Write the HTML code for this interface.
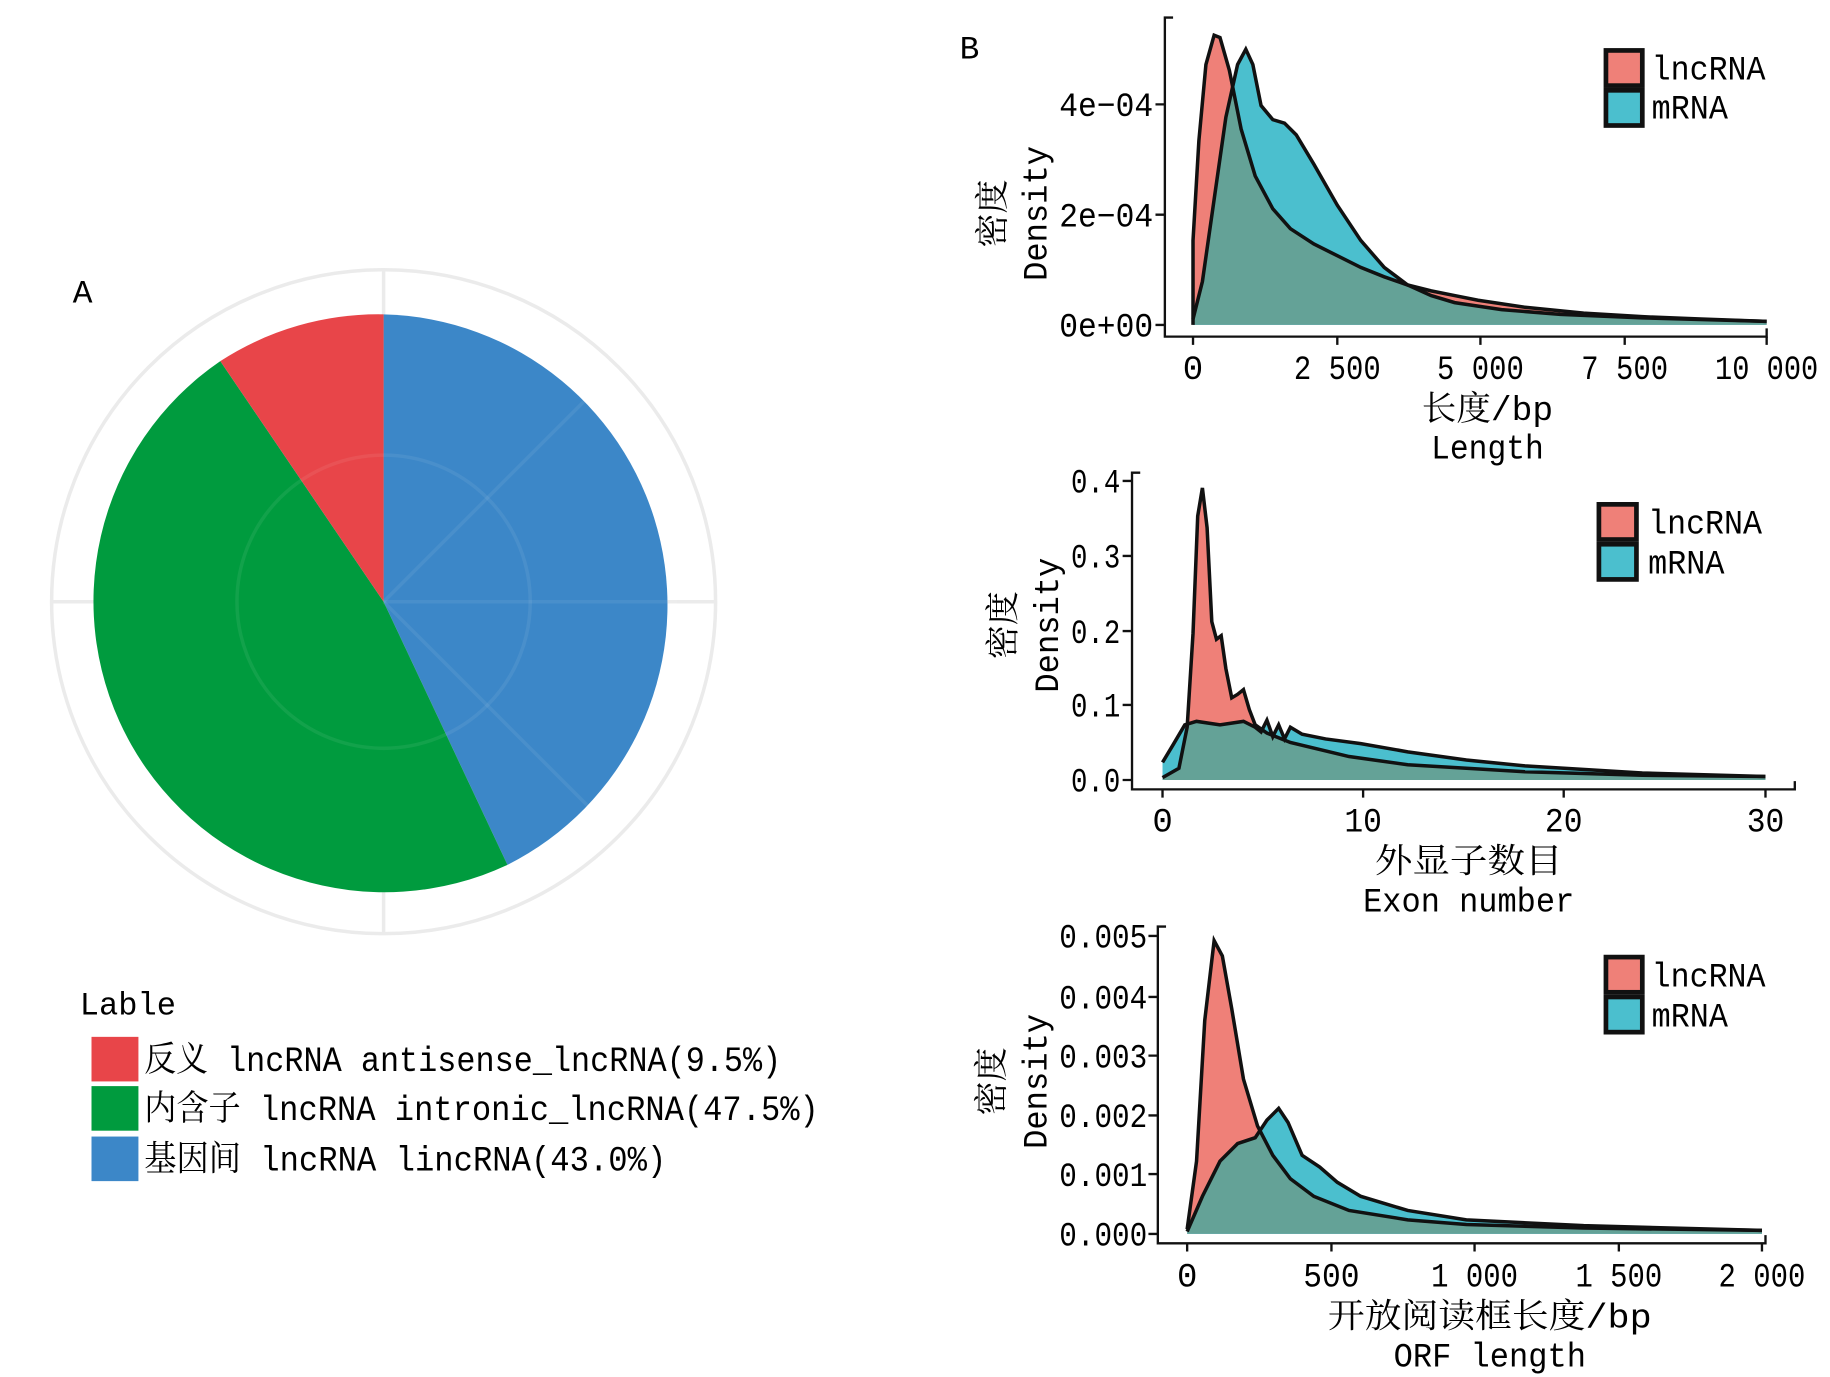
<!DOCTYPE html>
<html><head><meta charset="utf-8"><style>
html,body{margin:0;padding:0;background:#fff;}
svg{display:block;}
text{font-family:"Liberation Mono","Noto Serif CJK SC","Noto Sans CJK SC",monospace;fill:#000;}
</style></head><body>
<svg width="1830" height="1377" viewBox="0 0 1560 1174" preserveAspectRatio="none" xmlns="http://www.w3.org/2000/svg">
<defs>
<clipPath id="m1"><path d="M1017,272 L1025,240 1035,170 1045,100 1055,55 1062,42 1068,55 1075,90 1085,102 1095,105 1105,115 1120,140 1140,175 1160,205 1180,228 1200,243 1220,252 1240,258 1280,264 1330,268 1400,271 1506,274 1506,277 1017,277Z"/></clipPath>
<clipPath id="m2"><path d="M991,650 L1000,635 1010,618 1020,615 1040,618 1060,615 1070,620 1075,624 1080,614 1085,628 1090,618 1095,630 1100,620 1110,626 1130,630 1160,634 1200,641 1250,648 1300,653 1400,659 1505,662 1505,665 991,665Z"/></clipPath>
<clipPath id="m3"><path d="M1012,1050 L1025,1020 1040,990 1055,975 1070,970 1080,955 1090,945 1098,957 1110,985 1125,995 1140,1008 1160,1020 1200,1032 1250,1040 1350,1045 1502,1049 1502,1052 1012,1052Z"/></clipPath>
</defs>

<!-- Panel A -->
<text x="62" y="258" font-size="28">A</text>
<circle cx="327" cy="513" r="283" fill="none" stroke="#ebebeb" stroke-width="3"/>
<line x1="44" y1="513" x2="610" y2="513" stroke="#ebebeb" stroke-width="3"/>
<line x1="327" y1="230" x2="327" y2="796" stroke="#ebebeb" stroke-width="3"/>
<path d="M327,513 L327,268 A248,248 0 0,1 432.6,737.4 Z" fill="#3c87c8"/>
<path d="M327,513 L432.6,737.4 A248,248 0 0,1 187.8,307.9 Z" fill="#009b3e"/>
<path d="M327,513 L187.8,307.9 A248,248 0 0,1 327,268 Z" fill="#e84549"/>
<g stroke="#fff" stroke-opacity="0.07" stroke-width="3" fill="none">
<circle cx="327" cy="513" r="125"/>
<line x1="327" y1="513" x2="502" y2="338"/>
<line x1="327" y1="513" x2="577" y2="513"/>
<line x1="327" y1="513" x2="502" y2="688"/>
</g>
<text x="68" y="865" font-size="28" textLength="82" lengthAdjust="spacingAndGlyphs">Lable</text>
<rect x="78" y="884" width="40" height="38" fill="#e84549"/>
<rect x="78" y="926" width="40" height="38" fill="#009b3e"/>
<rect x="78" y="969" width="40" height="38" fill="#3c87c8"/>
<text x="123" y="913" font-size="30" textLength="543" lengthAdjust="spacingAndGlyphs">反义 lncRNA antisense_lncRNA(9.5%)</text>
<text x="123" y="955" font-size="30" textLength="575" lengthAdjust="spacingAndGlyphs">内含子 lncRNA intronic_lncRNA(47.5%)</text>
<text x="123" y="998" font-size="30" textLength="445" lengthAdjust="spacingAndGlyphs">基因间 lncRNA lincRNA(43.0%)</text>

<text x="818" y="50" font-size="28">B</text>

<!-- Plot 1 -->
<path d="M1017,205 L1022,120 1028,55 1035,30 1040,32 1048,60 1058,110 1070,150 1085,178 1100,195 1120,208 1140,218 1160,228 1180,236 1200,243 1220,248 1240,252 1260,256 1300,262 1350,267 1400,270 1450,272 1506,274 1506,277 1017,277Z" fill="#ef8078"/>
<path d="M1017,272 L1025,240 1035,170 1045,100 1055,55 1062,42 1068,55 1075,90 1085,102 1095,105 1105,115 1120,140 1140,175 1160,205 1180,228 1200,243 1220,252 1240,258 1280,264 1330,268 1400,271 1506,274 1506,277 1017,277Z" fill="#4bbfce"/>
<path clip-path="url(#m1)" d="M1017,205 L1022,120 1028,55 1035,30 1040,32 1048,60 1058,110 1070,150 1085,178 1100,195 1120,208 1140,218 1160,228 1180,236 1200,243 1220,248 1240,252 1260,256 1300,262 1350,267 1400,270 1450,272 1506,274 1506,277 1017,277Z" fill="#64a297"/>
<g fill="none" stroke="#111" stroke-width="3">
<polyline points="1017,277 1017,205 1022,120 1028,55 1035,30 1040,32 1048,60 1058,110 1070,150 1085,178 1100,195 1120,208 1140,218 1160,228 1180,236 1200,243 1220,248 1240,252 1260,256 1300,262 1350,267 1400,270 1450,272 1506,274"/>
<polyline points="1017,272 1025,240 1035,170 1045,100 1055,55 1062,42 1068,55 1075,90 1085,102 1095,105 1105,115 1120,140 1140,175 1160,205 1180,228 1200,243 1220,252 1240,258 1280,264 1330,268 1400,271 1506,274"/>
<polyline points="1000,15 993,15 993,287 1506,287 1506,280" stroke-width="2"/>
<path d="M985,89H993M985,183H993M985,277H993M1017,287V294M1140,287V294M1262,287V294M1385,287V294M1506,287V294" stroke-width="2"/>
</g>
<g font-size="29" text-anchor="end"><text x="983" y="99" textLength="80" lengthAdjust="spacingAndGlyphs">4e−04</text><text x="983" y="193" textLength="80" lengthAdjust="spacingAndGlyphs">2e−04</text><text x="983" y="287" textLength="80" lengthAdjust="spacingAndGlyphs">0e+00</text></g>
<g font-size="29" text-anchor="middle"><text x="1017" y="323">0</text><text x="1140" y="323" textLength="74" lengthAdjust="spacingAndGlyphs">2 500</text><text x="1262" y="323" textLength="74" lengthAdjust="spacingAndGlyphs">5 000</text><text x="1385" y="323" textLength="74" lengthAdjust="spacingAndGlyphs">7 500</text><text x="1506" y="323" textLength="88" lengthAdjust="spacingAndGlyphs">10 000</text>
<text x="1268" y="358" textLength="112" lengthAdjust="spacingAndGlyphs">长度/bp</text><text x="1268" y="391" textLength="96" lengthAdjust="spacingAndGlyphs">Length</text></g>
<text transform="translate(892,182) rotate(-90)" font-size="29" text-anchor="middle" textLength="115" lengthAdjust="spacingAndGlyphs">Density</text>
<text transform="translate(856,182) rotate(-90)" font-size="29" text-anchor="middle">密度</text>
<rect x="1369" y="43" width="31" height="30" fill="#ef8078" stroke="#111" stroke-width="4"/>
<rect x="1369" y="77" width="31" height="30" fill="#4bbfce" stroke="#111" stroke-width="4"/>
<text x="1408" y="68" font-size="29" textLength="97" lengthAdjust="spacingAndGlyphs">lncRNA</text>
<text x="1408" y="101" font-size="29" textLength="65" lengthAdjust="spacingAndGlyphs">mRNA</text>

<!-- Plot 2 -->
<path d="M991,663 L1005,655 1012,620 1017,540 1021,440 1025,416 1029,450 1033,530 1037,545 1041,542 1045,570 1050,595 1055,592 1060,588 1065,605 1070,618 1080,625 1100,633 1150,645 1200,652 1300,658 1400,661 1505,662 1505,665 991,665Z" fill="#ef8078"/>
<path d="M991,650 L1000,635 1010,618 1020,615 1040,618 1060,615 1070,620 1075,624 1080,614 1085,628 1090,618 1095,630 1100,620 1110,626 1130,630 1160,634 1200,641 1250,648 1300,653 1400,659 1505,662 1505,665 991,665Z" fill="#4bbfce"/>
<path clip-path="url(#m2)" d="M991,663 L1005,655 1012,620 1017,540 1021,440 1025,416 1029,450 1033,530 1037,545 1041,542 1045,570 1050,595 1055,592 1060,588 1065,605 1070,618 1080,625 1100,633 1150,645 1200,652 1300,658 1400,661 1505,662 1505,665 991,665Z" fill="#64a297"/>
<g fill="none" stroke="#111" stroke-width="3">
<polyline points="991,663 1005,655 1012,620 1017,540 1021,440 1025,416 1029,450 1033,530 1037,545 1041,542 1045,570 1050,595 1055,592 1060,588 1065,605 1070,618 1080,625 1100,633 1150,645 1200,652 1300,658 1400,661 1505,662"/>
<polyline points="991,650 1000,635 1010,618 1020,615 1040,618 1060,615 1070,620 1075,624 1080,614 1085,628 1090,618 1095,630 1100,620 1110,626 1130,630 1160,634 1200,641 1250,648 1300,653 1400,659 1505,662"/>
<polyline points="972,403 965,403 965,673 1530,673 1530,666" stroke-width="2"/>
<path d="M957,410H965M957,474H965M957,538H965M957,601H965M957,665H965M991,673V680M1162,673V680M1333,673V680M1505,673V680" stroke-width="2"/>
</g>
<g font-size="29" text-anchor="end"><text x="955" y="420" textLength="42" lengthAdjust="spacingAndGlyphs">0.4</text><text x="955" y="484" textLength="42" lengthAdjust="spacingAndGlyphs">0.3</text><text x="955" y="548" textLength="42" lengthAdjust="spacingAndGlyphs">0.2</text><text x="955" y="611" textLength="42" lengthAdjust="spacingAndGlyphs">0.1</text><text x="955" y="675" textLength="42" lengthAdjust="spacingAndGlyphs">0.0</text></g>
<g font-size="29" text-anchor="middle"><text x="991" y="709">0</text><text x="1162" y="709" textLength="32" lengthAdjust="spacingAndGlyphs">10</text><text x="1333" y="709" textLength="32" lengthAdjust="spacingAndGlyphs">20</text><text x="1505" y="709" textLength="32" lengthAdjust="spacingAndGlyphs">30</text>
<text x="1252" y="744" textLength="160" lengthAdjust="spacingAndGlyphs">外显子数目</text><text x="1252" y="777" textLength="180" lengthAdjust="spacingAndGlyphs">Exon number</text></g>
<text transform="translate(902,533) rotate(-90)" font-size="29" text-anchor="middle" textLength="115" lengthAdjust="spacingAndGlyphs">Density</text>
<text transform="translate(865,533) rotate(-90)" font-size="29" text-anchor="middle">密度</text>
<rect x="1363" y="430" width="32" height="30" fill="#ef8078" stroke="#111" stroke-width="4"/>
<rect x="1363" y="464" width="32" height="30" fill="#4bbfce" stroke="#111" stroke-width="4"/>
<text x="1405" y="455" font-size="29" textLength="97" lengthAdjust="spacingAndGlyphs">lncRNA</text>
<text x="1405" y="489" font-size="29" textLength="65" lengthAdjust="spacingAndGlyphs">mRNA</text>

<!-- Plot 3 -->
<path d="M1012,1048 L1020,990 1027,870 1035,802 1042,815 1050,860 1060,920 1072,960 1085,985 1100,1005 1120,1020 1150,1032 1200,1040 1250,1044 1350,1047 1502,1049 1502,1052 1012,1052Z" fill="#ef8078"/>
<path d="M1012,1050 L1025,1020 1040,990 1055,975 1070,970 1080,955 1090,945 1098,957 1110,985 1125,995 1140,1008 1160,1020 1200,1032 1250,1040 1350,1045 1502,1049 1502,1052 1012,1052Z" fill="#4bbfce"/>
<path clip-path="url(#m3)" d="M1012,1048 L1020,990 1027,870 1035,802 1042,815 1050,860 1060,920 1072,960 1085,985 1100,1005 1120,1020 1150,1032 1200,1040 1250,1044 1350,1047 1502,1049 1502,1052 1012,1052Z" fill="#64a297"/>
<g fill="none" stroke="#111" stroke-width="3">
<polyline points="1012,1048 1020,990 1027,870 1035,802 1042,815 1050,860 1060,920 1072,960 1085,985 1100,1005 1120,1020 1150,1032 1200,1040 1250,1044 1350,1047 1502,1049"/>
<polyline points="1012,1050 1025,1020 1040,990 1055,975 1070,970 1080,955 1090,945 1098,957 1110,985 1125,995 1140,1008 1160,1020 1200,1032 1250,1040 1350,1045 1502,1049"/>
<polyline points="994,790 987,790 987,1060 1505,1060 1505,1053" stroke-width="2"/>
<path d="M979,798H987M979,850H987M979,900H987M979,951H987M979,1001H987M979,1052H987M1012,1060V1067M1135,1060V1067M1257,1060V1067M1380,1060V1067M1502,1060V1067" stroke-width="2"/>
</g>
<g font-size="29" text-anchor="end"><text x="978" y="808" textLength="75" lengthAdjust="spacingAndGlyphs">0.005</text><text x="978" y="860" textLength="75" lengthAdjust="spacingAndGlyphs">0.004</text><text x="978" y="910" textLength="75" lengthAdjust="spacingAndGlyphs">0.003</text><text x="978" y="961" textLength="75" lengthAdjust="spacingAndGlyphs">0.002</text><text x="978" y="1011" textLength="75" lengthAdjust="spacingAndGlyphs">0.001</text><text x="978" y="1062" textLength="75" lengthAdjust="spacingAndGlyphs">0.000</text></g>
<g font-size="29" text-anchor="middle"><text x="1012" y="1097">0</text><text x="1135" y="1097" textLength="48" lengthAdjust="spacingAndGlyphs">500</text><text x="1257" y="1097" textLength="74" lengthAdjust="spacingAndGlyphs">1 000</text><text x="1380" y="1097" textLength="74" lengthAdjust="spacingAndGlyphs">1 500</text><text x="1502" y="1097" textLength="74" lengthAdjust="spacingAndGlyphs">2 000</text>
<text x="1270" y="1132" textLength="276" lengthAdjust="spacingAndGlyphs">开放阅读框长度/bp</text><text x="1270" y="1165" textLength="164" lengthAdjust="spacingAndGlyphs">ORF length</text></g>
<text transform="translate(892,922) rotate(-90)" font-size="29" text-anchor="middle" textLength="115" lengthAdjust="spacingAndGlyphs">Density</text>
<text transform="translate(855,922) rotate(-90)" font-size="29" text-anchor="middle">密度</text>
<rect x="1369" y="816" width="31" height="30" fill="#ef8078" stroke="#111" stroke-width="4"/>
<rect x="1369" y="850" width="31" height="30" fill="#4bbfce" stroke="#111" stroke-width="4"/>
<text x="1408" y="841" font-size="29" textLength="97" lengthAdjust="spacingAndGlyphs">lncRNA</text>
<text x="1408" y="875" font-size="29" textLength="65" lengthAdjust="spacingAndGlyphs">mRNA</text>
</svg>
</body></html>
